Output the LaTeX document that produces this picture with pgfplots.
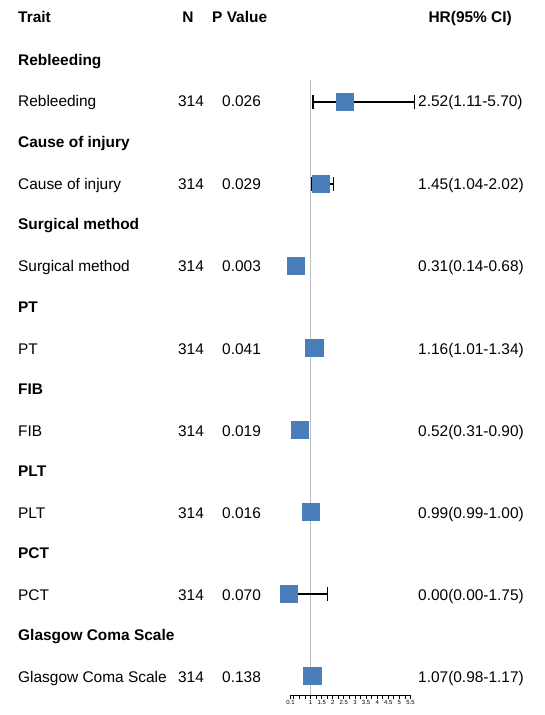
\documentclass[border=0pt]{standalone}
\usepackage{pgfplots}
\usepackage{pgfplotstable}
\pgfplotsset{compat=1.18}
\usepackage{fontspec}
\setmainfont{Liberation Sans}
\definecolor{boxblue}{RGB}{74,126,187}
\definecolor{refgray}{RGB}{190,190,190}

\pgfplotstableread{
y hr lo hi
-102 2.52 1.11 5.70
-184 1.45 1.04 2.02
-266 0.31 0.14 0.68
-348 1.16 1.01 1.34
-430 0.52 0.31 0.90
-512 0.99 0.99 1.00
-594 0.00 0.00 1.75
-676 1.07 0.98 1.17
}\hrdata

\begin{document}
\begin{tikzpicture}[x=1bp,y=1bp]
\useasboundingbox (0,0) rectangle (545,-715);
\begin{axis}[
  at={(290.6bp,-695bp)}, anchor=south west,
  scale only axis, width=119.9bp, height=615bp,
  xmin=0.1, xmax=5.5, ymin=-695, ymax=-80,
  axis x line=bottom, axis y line=none,
  axis line style={-, black, line width=1bp},
  clip=false,
  xtick={0.1,1,1.5,2,2.5,3,3.5,4,4.5,5,5.5},
  xticklabels={0.1,1,1.5,2,2.5,3,3.5,4,4.5,5,5.5},
  minor xtick={0.25,0.5,0.75,1.25,1.75,2.25,2.75,3.25,3.75,4.25,4.75,5.25},
  tick align=outside,
  major tick length=4bp, minor tick length=4bp,
  tick style={black, line width=0.9bp},
  xticklabel style={font=\fontsize{6}{7}\selectfont, inner sep=1.5bp},
  /pgf/number format/assume math mode=true,
]
\addplot[refgray, line width=1.4bp] coordinates {(1,-695) (1,-80)};
\addplot[draw=none, mark=none,
  error bars/.cd, x dir=both, x explicit,
  error bar style={black, line width=1.1bp},
  error mark options={black, line width=1.1bp, mark size=7bp, rotate=90}]
  table[x=hr, y=y, x error plus expr=\thisrow{hi}-\thisrow{hr}, x error minus expr=\thisrow{hr}-\thisrow{lo}] {\hrdata};
\addplot[only marks, mark=square*, mark size=8.6bp,
  mark options={fill=boxblue, draw=boxblue, line width=0.3bp}]
  table[x=hr, y=y] {\hrdata};
\end{axis}

\begin{scope}[every node/.style={inner sep=0pt, font=\fontsize{15.5}{18}\selectfont}]
% header
\node[anchor=base west] at (18,-23) {\bfseries Trait};
\node[anchor=base] at (188,-23) {\bfseries N};
\node[anchor=base west] at (212,-23) {\bfseries P Value};
\node[anchor=base east] at (512,-23) {\bfseries HR(95\% CI)};
% groups
\foreach \yy/\grp/\nm/\pv/\hr in {
  60/Rebleeding/Rebleeding/0.026/2.52(1.11-5.70),
  142/Cause of injury/Cause of injury/0.029/1.45(1.04-2.02),
  224/Surgical method/Surgical method/0.003/0.31(0.14-0.68),
  307/PT/PT/0.041/1.16(1.01-1.34),
  389/FIB/FIB/0.019/0.52(0.31-0.90),
  471/PLT/PLT/0.016/0.99(0.99-1.00),
  553/PCT/PCT/0.070/0.00(0.00-1.75),
  635/Glasgow Coma Scale/Glasgow Coma Scale/0.138/1.07(0.98-1.17)}{
  \node[anchor=base west] at (18,{-(\yy+5.5)}) {\bfseries \grp};
  \node[anchor=base west] at (18,{-(\yy+41+6)}) {\nm};
  \node[anchor=base] at (191,{-(\yy+41+6)}) {314};
  \node[anchor=base west] at (222,{-(\yy+41+6)}) {\pv};
  \node[anchor=base west] at (418,{-(\yy+41+6)}) {\hr};
}
\end{scope}
\end{tikzpicture}
\end{document}
